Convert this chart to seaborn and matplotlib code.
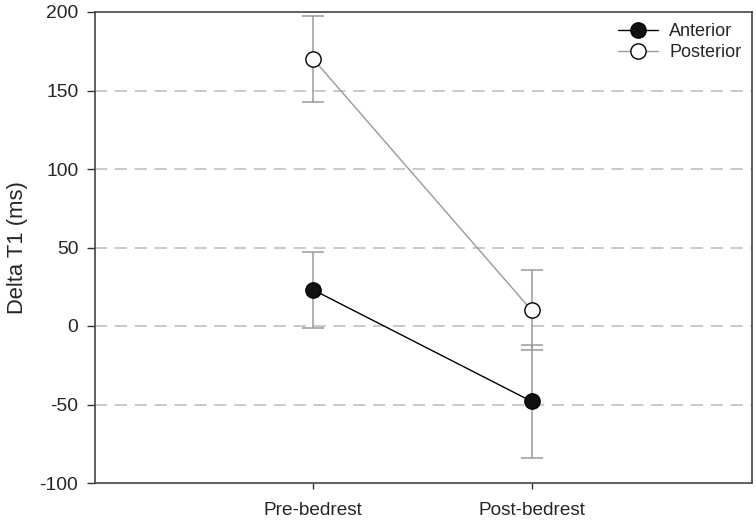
import matplotlib
matplotlib.use("Agg")
import matplotlib.pyplot as plt
import seaborn as sns
import pandas as pd
import numpy as np

categories = ["Pre-bedrest", "Post-bedrest"]
anterior_mean = [23, -48]
anterior_err = [24, 36]
posterior_mean = [170, 10]
posterior_err = [27.5, 25.5]
yticks = [-100, -50, 0, 50, 100, 150, 200]

sns.set_style("white")
plt.rcParams['font.family'] = ['Liberation Sans', 'DejaVu Sans']

fig = plt.figure(figsize=(7.56, 5.21), dpi=100)
ax = fig.add_axes([95/756, 38/521, 657/756, 471/521])

x = np.arange(len(categories))
df = pd.DataFrame({
    "x": np.concatenate([x, x]),
    "y": anterior_mean + posterior_mean,
    "group": ["Anterior"] * 2 + ["Posterior"] * 2,
})

for yv in [-50, 0, 50, 100, 150]:
    ax.axhline(yv, color="#bbbbbb", lw=1.1, dashes=(8, 5), zorder=0)

ax.errorbar(x, anterior_mean, yerr=anterior_err, fmt="none", ecolor="#9a9a9a",
            elinewidth=1.1, capsize=8, capthick=1.1, zorder=1)
ax.errorbar(x, posterior_mean, yerr=posterior_err, fmt="none", ecolor="#9a9a9a",
            elinewidth=1.1, capsize=8, capthick=1.1, zorder=1)

sns.lineplot(data=df[df.group == "Anterior"], x="x", y="y", ax=ax, color="black",
             lw=1, marker="o", markersize=11, markerfacecolor="#111111",
             markeredgecolor="black", markeredgewidth=1, label="Anterior", zorder=3)
sns.lineplot(data=df[df.group == "Posterior"], x="x", y="y", ax=ax, color="#999999",
             lw=1, marker="o", markersize=11, markerfacecolor="white",
             markeredgecolor="black", markeredgewidth=1, label="Posterior", zorder=3)

ax.set_xlim(-1, 2.01)
ax.set_ylim(-100, 200)
ax.set_xticks(x)
ax.set_xticklabels(categories, fontsize=13.7)
ax.set_yticks(yticks)
ax.set_yticklabels([str(t) for t in yticks], fontsize=13.9)
ax.set_xlabel("")
ax.set_ylabel("Delta T1 (ms)", fontsize=15.8, labelpad=8)
ax.tick_params(axis="y", direction="out", length=6, width=1, color="#333333",
               left=True, pad=6)
ax.tick_params(axis="x", direction="out", length=4, width=1, color="#333333",
               bottom=True, pad=10)
for s in ax.spines.values():
    s.set_color("#444444")
    s.set_linewidth(1.2)

leg = ax.legend(loc="upper right", frameon=False, fontsize=13, handlelength=2.2,
                borderaxespad=0.2, handletextpad=0.6, labelspacing=0.25)

fig.savefig("out.png", dpi=100)
